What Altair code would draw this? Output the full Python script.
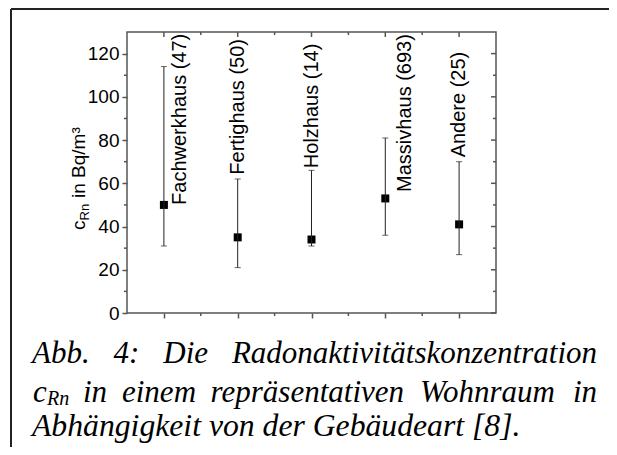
import altair as alt
import pandas as pd

# ---------------- data ----------------
categories = ["Fachwerkhaus", "Fertighaus", "Holzhaus", "Massivhaus", "Andere"]
counts = [47, 50, 14, 693, 25]
positions = [1, 2, 3, 4, 5]
center_vals = [50, 35, 34, 53, 41]
low_vals = [31, 21, 31, 36, 27]
high_vals = [114, 62, 66, 81, 70]
label_x = [1.22, 2.0, 3.01, 4.27, 5.0]
label_y = [50, 64, 67, 56, 72]

y_major = [0, 20, 40, 60, 80, 100, 120]
y_minor = [10, 30, 50, 70, 90, 110]
x_major = [1, 2, 3, 4, 5]
x_minor = [1.5, 2.5, 3.5, 4.5]

y_title_parts = ["c", "Rn", "in Bq/m³"]
caption_line1 = ["Abb.", "4:", "Die", "Radonaktivitätskonzentration"]
caption_line2 = ["c", "Rn", "in", "einem", "repräsentativen", "Wohnraum", "in"]
caption_line3 = "Abhängigkeit von der Gebäudeart [8]."

# ---------------- layout ----------------
W, H = 369, 281
SANS = "Liberation Sans"
SERIF = "Liberation Serif"
AX = "#555555"

df = pd.DataFrame({
    "cat": categories,
    "n": counts,
    "pos": positions,
    "val": center_vals,
    "low": low_vals,
    "high": high_vals,
    "lx": label_x,
    "ly": label_y,
})
df["label"] = [f"{c} ({n})" for c, n in zip(categories, counts)]

xs = alt.Scale(domain=[0.5, 5.5], nice=False, zero=False)
ys = alt.Scale(domain=[0, 130], nice=False, zero=False)

base = alt.Chart(df)

points = base.mark_point(shape="square", filled=True, size=64, color="black", opacity=1).encode(
    x=alt.X("pos:Q", scale=xs, axis=alt.Axis(values=x_major, labels=False, ticks=True, tickSize=5,
                                               tickColor=AX, tickWidth=1.5, domain=False, grid=False, title=None)),
    y=alt.Y("val:Q", scale=ys, axis=alt.Axis(values=y_major, tickSize=5, tickColor=AX, tickWidth=1.5,
                                               domain=False, grid=False, title=None, labelFont=SANS,
                                               labelFontSize=19, labelColor="black", labelPadding=3)),
)

bars = base.mark_rule(color="#222222", strokeWidth=1).encode(
    x=alt.X("pos:Q", scale=xs), y=alt.Y("low:Q", scale=ys), y2="high:Q"
)
cap_low = base.mark_tick(orient="horizontal", size=6, thickness=1, color="#222222").encode(
    x=alt.X("pos:Q", scale=xs), y=alt.Y("low:Q", scale=ys)
)
cap_high = base.mark_tick(orient="horizontal", size=6, thickness=1, color="#222222").encode(
    x=alt.X("pos:Q", scale=xs), y=alt.Y("high:Q", scale=ys)
)

labels = base.mark_text(angle=270, align="left", baseline="middle", font=SANS, fontSize=20, color="black").encode(
    x=alt.X("lx:Q", scale=xs), y=alt.Y("ly:Q", scale=ys), text="label:N"
)

# minor / mirrored ticks
dymin = pd.DataFrame({"v": y_minor})
dymaj = pd.DataFrame({"v": y_major})
dxmin = pd.DataFrame({"v": x_minor})
dxmaj = pd.DataFrame({"v": x_major})

left_minor = alt.Chart(dymin).mark_rule(color=AX, strokeWidth=1.5).encode(
    y=alt.Y("v:Q", scale=ys), x=alt.value(-3), x2=alt.value(0))
right_major = alt.Chart(dymaj).mark_rule(color=AX, strokeWidth=1.5).encode(
    y=alt.Y("v:Q", scale=ys), x=alt.value(W - 5), x2=alt.value(W))
right_minor = alt.Chart(dymin).mark_rule(color=AX, strokeWidth=1.5).encode(
    y=alt.Y("v:Q", scale=ys), x=alt.value(W - 3), x2=alt.value(W))
bottom_minor = alt.Chart(dxmin).mark_rule(color=AX, strokeWidth=1.5).encode(
    x=alt.X("v:Q", scale=xs), y=alt.value(H), y2=alt.value(H + 3))
top_major = alt.Chart(dxmaj).mark_rule(color=AX, strokeWidth=1.5).encode(
    x=alt.X("v:Q", scale=xs), y=alt.value(0), y2=alt.value(5))
top_minor = alt.Chart(dxmin).mark_rule(color=AX, strokeWidth=1.5).encode(
    x=alt.X("v:Q", scale=xs), y=alt.value(0), y2=alt.value(3))

dummy = pd.DataFrame({"a": [0]})

def txt(s, x, y, size, font=SANS, angle=0, style="normal", align="left", baseline="alphabetic"):
    kw = dict(font=font, fontSize=size, color="black", align=align, baseline=baseline, fontStyle=style)
    if angle:
        kw["angle"] = angle
    return alt.Chart(dummy).mark_text(**kw).encode(x=alt.value(x), y=alt.value(y), text=alt.value(s))

# y-axis title with subscript (rotated)
ytitle = [
    txt(y_title_parts[0], -42, 198, 19, angle=270),
    txt(y_title_parts[1], -38, 188.5, 13, angle=270),
    txt(y_title_parts[2], -42, 166, 19, angle=270),
]

# frame lines of the figure box (left edge and top edge)
frame = [
    alt.Chart(dummy).mark_rule(color="#222222", strokeWidth=2).encode(
        x=alt.value(-116), y=alt.value(-23), y2=alt.value(430)),
    alt.Chart(dummy).mark_rule(color="#222222", strokeWidth=2).encode(
        y=alt.value(-23), x=alt.value(-116), x2=alt.value(482)),
]

# caption (justified by placing words; plot-area-relative pixel positions)
CS = 31
b1, b2, b3 = 331, 370, 404
cap = [
    txt(caption_line1[0], -95, b1, CS, SERIF, style="italic"),
    txt(caption_line1[1], -13.4, b1, CS, SERIF, style="italic"),
    txt(caption_line1[2], 36.3, b1, CS, SERIF, style="italic"),
    txt(caption_line1[3], 470, b1, CS, SERIF, style="italic", align="right"),
    txt(caption_line2[0], -94, b2, CS, SERIF, style="italic"),
    txt(caption_line2[1], -80, b2 + 3, 20, SERIF, style="italic"),
    txt(caption_line2[2], -44, b2, CS, SERIF, style="italic"),
    txt(caption_line2[3], -5, b2, CS, SERIF, style="italic"),
    txt(caption_line2[4], 83.6, b2, CS, SERIF, style="italic"),
    txt(caption_line2[5], 293, b2, CS, SERIF, style="italic"),
    txt(caption_line2[6], 470, b2, CS, SERIF, style="italic", align="right"),
    txt(caption_line3, -95, b3, 31.7, SERIF, style="italic"),
]

chart = alt.layer(
    points, bars, cap_low, cap_high, labels,
    left_minor, right_major, right_minor, bottom_minor, top_major, top_minor,
    *ytitle, *frame, *cap,
).properties(
    width=W, height=H,
    autosize=alt.AutoSizeParams(type="none"),
    padding={"left": 119, "top": 24, "right": 113, "bottom": 134},
    background="white",
).configure_view(stroke=AX, strokeWidth=1.5)

chart.save("out.html", embed_options={"renderer": "svg", "actions": False})
